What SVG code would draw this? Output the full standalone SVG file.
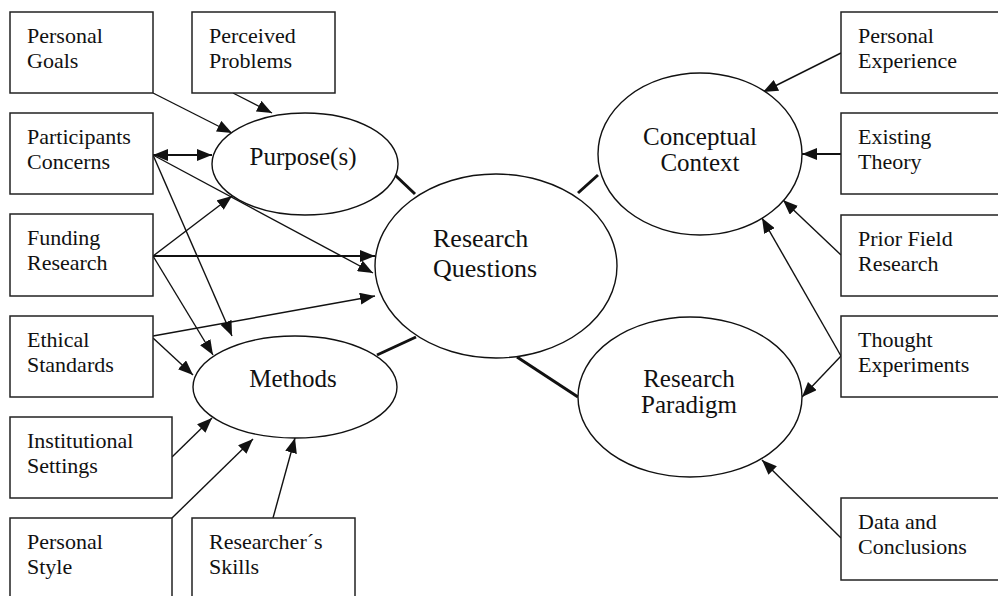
<svg xmlns="http://www.w3.org/2000/svg" width="998" height="596" viewBox="0 0 998 596">
<style>
.box{fill:#fff;stroke:#222;stroke-width:1.5}
.ell{fill:#fff;stroke:#111;stroke-width:1.4}
.t{font-family:"Liberation Serif","Times New Roman",serif;font-size:22px;fill:#111}
.lt{font-family:"Liberation Serif","Times New Roman",serif;font-size:25px;fill:#111}
.c{fill:none;stroke:#111;stroke-width:1.4}
.thick{fill:none;stroke:#111;stroke-width:3}
.mid{fill:none;stroke:#111;stroke-width:2.2}
</style>
<defs>
<marker id="ah" viewBox="0 0 15 12" refX="15" refY="6" markerWidth="15" markerHeight="12" markerUnits="userSpaceOnUse" orient="auto-start-reverse">
<path d="M0,0 L15,6 L0,12 z" fill="#111"/>
</marker>
</defs>
<rect width="998" height="596" fill="#fff"/>

<g id="connectors">
<line class="c" x1="153" y1="93" x2="232" y2="133" marker-end="url(#ah)"/>
<line class="c" x1="233" y1="93" x2="272" y2="113" marker-end="url(#ah)"/>
<line class="mid" x1="153" y1="155" x2="212" y2="155" marker-start="url(#ah)" marker-end="url(#ah)"/>
<line class="c" x1="153" y1="155" x2="373" y2="273" marker-end="url(#ah)"/>
<line class="c" x1="153" y1="155" x2="232" y2="336" marker-end="url(#ah)"/>
<line class="c" x1="153" y1="256" x2="232" y2="196" marker-end="url(#ah)"/>
<line class="mid" x1="153" y1="256" x2="375" y2="256" marker-end="url(#ah)"/>
<line class="c" x1="153" y1="256" x2="213" y2="355" marker-end="url(#ah)"/>
<line class="c" x1="153" y1="336" x2="375" y2="296" marker-end="url(#ah)"/>
<line class="c" x1="153" y1="338" x2="193" y2="375" marker-end="url(#ah)"/>
<line class="c" x1="172" y1="457" x2="212" y2="418" marker-end="url(#ah)"/>
<line class="c" x1="172" y1="518" x2="253" y2="439" marker-end="url(#ah)"/>
<line class="c" x1="273" y1="518" x2="295" y2="438" marker-end="url(#ah)"/>
<line class="c" x1="841" y1="53" x2="763" y2="92" marker-end="url(#ah)"/>
<line class="mid" x1="841" y1="154" x2="802" y2="154" marker-end="url(#ah)"/>
<line class="c" x1="841" y1="255" x2="783" y2="200" marker-end="url(#ah)"/>
<line class="c" x1="841" y1="356" x2="762" y2="218" marker-end="url(#ah)"/>
<line class="c" x1="841" y1="356" x2="802" y2="397" marker-end="url(#ah)"/>
<line class="c" x1="841" y1="538" x2="762" y2="460" marker-end="url(#ah)"/>
<line class="thick" x1="395" y1="175" x2="415" y2="194"/>
<line class="thick" x1="578" y1="193" x2="598" y2="175"/>
<line class="thick" x1="377" y1="355" x2="416" y2="337"/>
<line class="thick" x1="517" y1="357" x2="578" y2="397"/>
</g>

<g id="personal-goals"><rect class="box" x="10" y="12" width="143" height="81"/><text class="t" x="27" y="43">Personal</text><text class="t" x="27" y="68">Goals</text></g>
<g id="perceived-problems"><rect class="box" x="192" y="12" width="143" height="81"/><text class="t" x="209" y="43">Perceived</text><text class="t" x="209" y="68">Problems</text></g>
<g id="participants-concerns"><rect class="box" x="10" y="113" width="143" height="81"/><text class="t" x="27" y="144">Participants</text><text class="t" x="27" y="169">Concerns</text></g>
<g id="funding-research"><rect class="box" x="10" y="214" width="143" height="82"/><text class="t" x="27" y="245">Funding</text><text class="t" x="27" y="270">Research</text></g>
<g id="ethical-standards"><rect class="box" x="10" y="316" width="143" height="81"/><text class="t" x="27" y="347">Ethical</text><text class="t" x="27" y="372">Standards</text></g>
<g id="institutional-settings"><rect class="box" x="10" y="417" width="162" height="81"/><text class="t" x="27" y="448">Institutional</text><text class="t" x="27" y="473">Settings</text></g>
<g id="personal-style"><rect class="box" x="10" y="518" width="162" height="90"/><text class="t" x="27" y="549">Personal</text><text class="t" x="27" y="574">Style</text></g>
<g id="researchers-skills"><rect class="box" x="192" y="518" width="163" height="90"/><text class="t" x="209" y="549">Researcher´s</text><text class="t" x="209" y="574">Skills</text></g>

<g id="personal-experience"><rect class="box" x="841" y="12" width="170" height="81"/><text class="t" x="858" y="43">Personal</text><text class="t" x="858" y="68">Experience</text></g>
<g id="existing-theory"><rect class="box" x="841" y="113" width="170" height="81"/><text class="t" x="858" y="144">Existing</text><text class="t" x="858" y="169">Theory</text></g>
<g id="prior-field-research"><rect class="box" x="841" y="215" width="170" height="81"/><text class="t" x="858" y="246">Prior Field</text><text class="t" x="858" y="271">Research</text></g>
<g id="thought-experiments"><rect class="box" x="841" y="316" width="170" height="81"/><text class="t" x="858" y="347">Thought</text><text class="t" x="858" y="372">Experiments</text></g>
<g id="data-and-conclusions"><rect class="box" x="841" y="498" width="170" height="82"/><text class="t" x="858" y="529">Data and</text><text class="t" x="858" y="554">Conclusions</text></g>

<g id="purposes"><ellipse class="ell" cx="305" cy="164" rx="93" ry="51"/><text class="lt" x="303" y="165" text-anchor="middle">Purpose(s)</text></g>
<g id="methods"><ellipse class="ell" cx="295" cy="387" rx="102" ry="51"/><text class="lt" x="293" y="387" text-anchor="middle">Methods</text></g>
<g id="research-questions"><ellipse class="ell" cx="496" cy="266" rx="121" ry="92"/><text class="lt" x="433" y="247" style="font-size:26px">Research</text><text class="lt" x="433" y="277" style="font-size:26px">Questions</text></g>
<g id="conceptual-context"><ellipse class="ell" cx="700" cy="154" rx="102" ry="81"/><text class="lt" x="700" y="145" text-anchor="middle">Conceptual</text><text class="lt" x="700" y="171" text-anchor="middle">Context</text></g>
<g id="research-paradigm"><ellipse class="ell" cx="690" cy="397" rx="112" ry="80"/><text class="lt" x="689" y="387" text-anchor="middle">Research</text><text class="lt" x="689" y="413" text-anchor="middle">Paradigm</text></g>
</svg>
